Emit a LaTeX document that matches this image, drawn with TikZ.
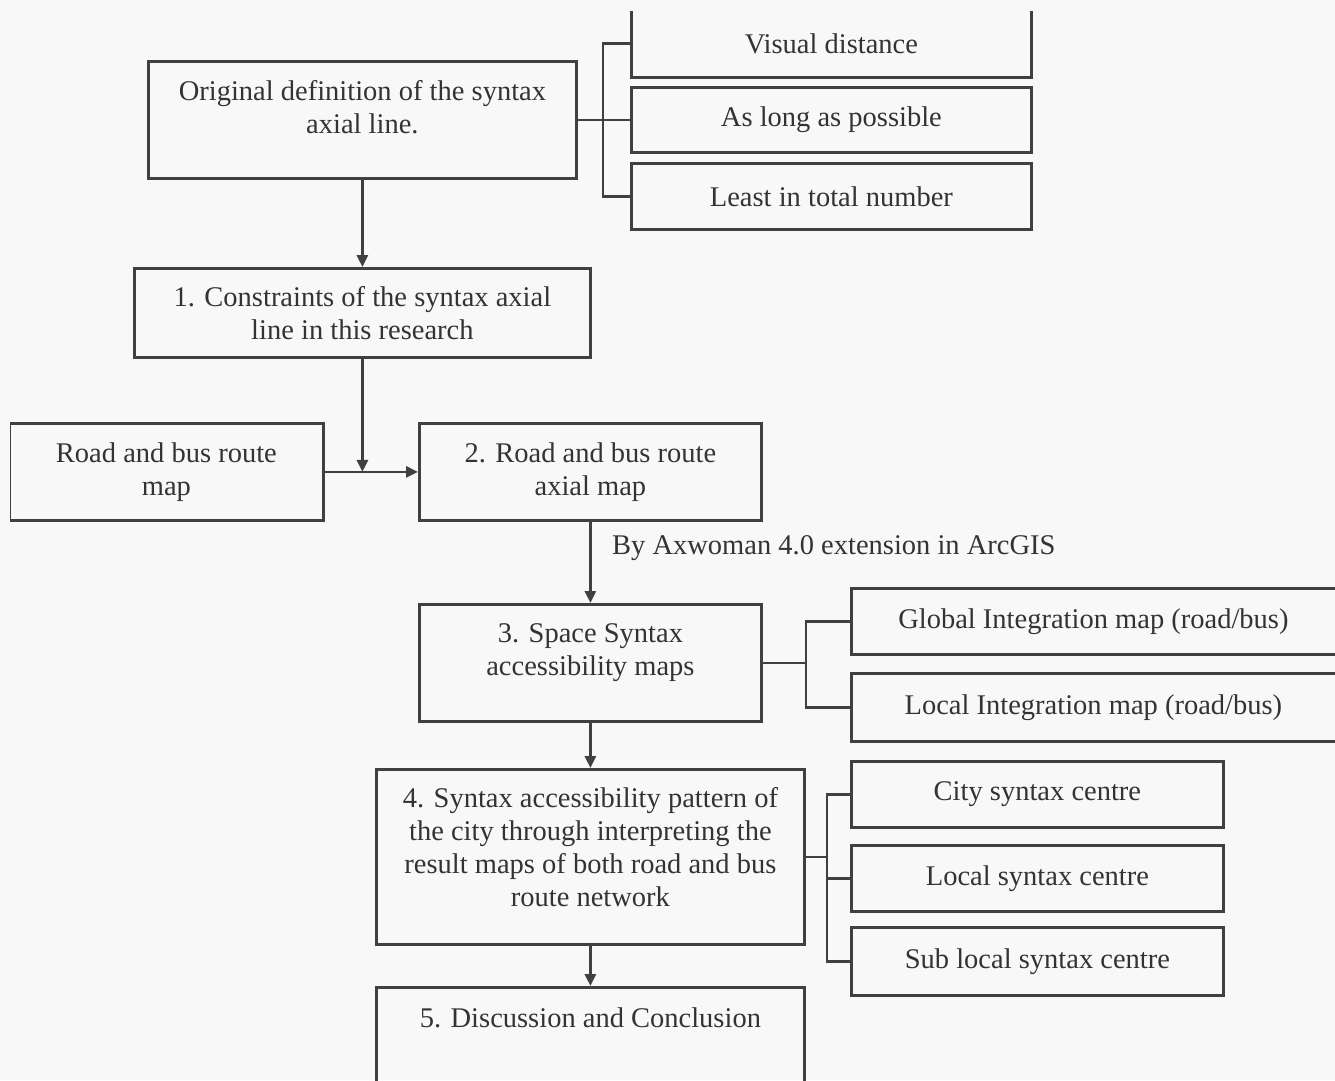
\documentclass[tikz,border=0pt]{standalone}
\usepackage{fontspec}
\setmainfont{Liberation Serif}
\usetikzlibrary{arrows.meta,calc}
\definecolor{bgc}{HTML}{F8F8F8}
\definecolor{linec}{HTML}{404040}
\definecolor{textc}{HTML}{333333}
\tikzset{
  box/.style={draw=linec, line width=2.8pt, rectangle, inner sep=0pt, align=center,
    text=textc, font=\fontsize{28.5}{33}\selectfont, anchor=north west},
  conn/.style={draw=linec, line width=2.8pt},
  arr/.style={conn, -{Triangle[length=12pt,width=11pt]}},
  lbl/.style={text=textc, font=\fontsize{28.5}{33}\selectfont, inner sep=0pt}
}
\newcommand{\bx}[7]{% name, x1, y1, x2, y2, text, options
  \node[box, minimum width={#4-#2}, minimum height={#5-#3}, #7] (#1) at (#2,#3) {#6};}
\begin{document}
\begin{tikzpicture}[x=1pt,y=-1pt]
\useasboundingbox (0,0) rectangle (1335,1080);
\fill[bgc] (0,0) rectangle (1335,1080);
\clip (10,11) rectangle (1335,1080);
% top group
\bx{orig}{147}{60}{575}{177}{Original definition of the syntax\\axial line.\\[-8pt]\mbox{}}{}
\bx{vis}{630}{8}{1030}{76}{Visual distance}{}
\bx{along}{630}{86}{1030}{151}{As long as possible}{}
\bx{least}{630}{162}{1030}{228}{Least in total number}{}
\coordinate (b1) at (603,118.5);
\draw[conn] (orig.east) -- (along.west);
\draw[conn] (vis.west) -| (b1);
\draw[conn] (least.west) -| (b1);
% step 1
\bx{c1}{133}{267}{589}{356}{1. Constraints of the syntax axial\\line in this research}{}
\draw[arr] (orig.south) -- (c1.north);
% road map and step 2
\bx{road}{8}{422}{322}{519}{Road and bus route\\map}{}
\bx{c2}{418}{422}{760}{519}{2. Road and bus route\\axial map}{}
\draw[arr] (c1.south) -- (c1.south |- road.east);
\draw[arr] (road.east) -- (c2.west);
\node[lbl, anchor=west] (by) at (612,548) {By Axwoman 4.0 extension in ArcGIS};
% step 3
\bx{c3}{418}{603}{760}{720}{3. Space Syntax\\accessibility maps\\[-6pt]\mbox{}}{}
\draw[arr] (c2.south) -- (c3.north);
\bx{glob}{850}{587}{1400}{653}{\hspace*{-66pt}Global Integration map (road/bus)}{}
\bx{loc}{850}{672}{1400}{740}{\hspace*{-66pt}Local Integration map (road/bus)}{}
\coordinate (b3) at (806,661.5);
\draw[conn] (c3.east) -- (c3.east -| b3);
\draw[conn] (glob.west) -| (b3);
\draw[conn] (loc.west) -| (b3);
% step 4
\bx{c4}{375}{768}{803}{943}{4. Syntax accessibility pattern of\\the city through interpreting the\\result maps of both road and bus\\route network\\[-13pt]\mbox{}}{}
\draw[arr] (c3.south) -- (c4.north);
\bx{city}{850}{760}{1222}{826}{City syntax centre}{}
\bx{lsc}{850}{844}{1222}{910}{Local syntax centre}{}
\bx{sub}{850}{926}{1222}{994}{Sub local syntax centre}{}
\coordinate (b4) at (827,855.5);
\draw[conn] (c4.east) -- (c4.east -| b4);
\draw[conn] (city.west) -| (b4);
\draw[conn] (sub.west) -| (b4);
\draw[conn] (b4 |- lsc.west) -- (lsc.west);
% step 5
\bx{c5}{375}{986}{803}{1130}{5. Discussion and Conclusion\\[50pt]}{}
\draw[arr] (c4.south) -- (c5.north);
\end{tikzpicture}
\end{document}
